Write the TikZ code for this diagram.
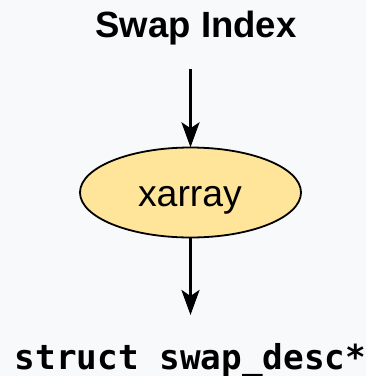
\documentclass[tikz,border=0pt]{standalone}
\usepackage{fontspec}
\setmainfont{Liberation Sans}
\newfontfamily\codefont{DejaVu Sans Mono}
\usetikzlibrary{shapes.geometric,arrows.meta}
\definecolor{bgcol}{HTML}{F8F9FB}
\definecolor{nodefill}{HTML}{FFE599}
\tikzset{
  flow/.style={line width=3pt,-{Stealth[length=25pt,width=18pt,inset=6pt]}},
  label/.style={inner sep=0pt,anchor=base}
}
\begin{document}
\begin{tikzpicture}[x=1pt,y=-1pt]
  % canvas
  \fill[bgcol] (0,0) rectangle (366,376);
  \useasboundingbox (0,0) rectangle (366,376);
  % title
  \node[label] (title) at (196,37.3) {\fontsize{36.5}{40}\selectfont\bfseries Swap Index};
  \coordinate (start) at (190.5,69);
  % the lookup structure
  \draw[line width=1.8pt,fill=nodefill] (190.5,192.5) ellipse [x radius=110.5, y radius=45];
  \node[ellipse,minimum width=221pt,minimum height=90pt,inner sep=0pt] (xa) at (190.5,192.5) {};
  \node[label] (xatext) at (190,206) {\fontsize{37.4}{40}\selectfont xarray};
  % result
  \node[label] (res) at (190.5,369) {\fontsize{34.3}{38}\selectfont\codefont\bfseries struct swap\_desc*};
  \coordinate (end) at (190.5,315);
  % connectors
  \draw[flow] (start) -- (xa.north);
  \draw[flow] (xa.south) -- (end);
\end{tikzpicture}
\end{document}
